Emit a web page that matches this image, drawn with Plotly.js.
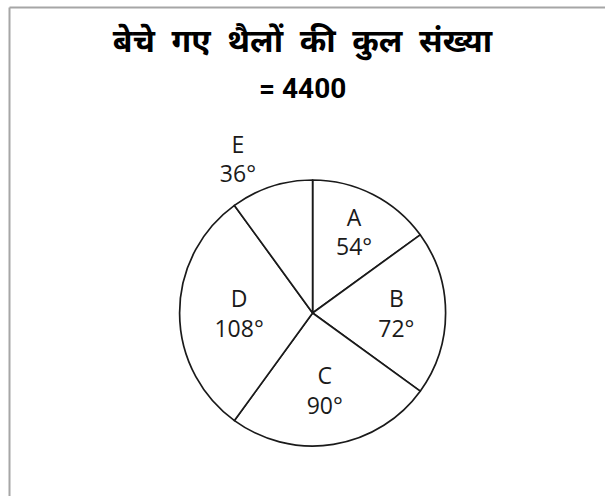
<!DOCTYPE html>
<html>
<head>
<meta charset="utf-8">
<script src="https://cdn.plot.ly/plotly-3.0.1.min.js"></script>
<style>
  html, body { margin: 0; padding: 0; background: #fff; }
  #chart { width: 605px; height: 496px; }
</style>
</head>
<body>
<div id="chart"></div>
<script>
// slice names and their angles in degrees
const categories = ['A', 'B', 'C', 'D', 'E'];
const degrees = [54, 72, 90, 108, 36];
const labelPlaces = ['inside', 'inside', 'inside', 'inside', 'outside'];
const titleWords = ['बेचे', 'गए', 'थैलों', 'की', 'कुल', 'संख्या'];
const totalText = '= 4400';

const labelFont = { family: 'Open Sans, sans-serif', size: 23, color: '#1a1a1a' };

const trace = {
  type: 'pie',
  labels: categories,
  values: degrees,
  sort: false,
  direction: 'clockwise',
  rotation: 0,
  texttemplate: '%{label}<br>%{value}°',
  textposition: labelPlaces,
  insidetextorientation: 'horizontal',
  insidetextfont: labelFont,
  outsidetextfont: labelFont,
  hoverinfo: 'none',
  marker: {
    colors: categories.map(() => '#ffffff'),
    line: { color: '#1a1a1a', width: 1.7 }
  },
  domain: { x: [0.2967, 0.7367], y: [0.1008, 0.6371] },
  showlegend: false
};

const layout = {
  width: 605,
  height: 496,
  margin: { l: 0, r: 0, t: 0, b: 0 },
  paper_bgcolor: '#ffffff',
  plot_bgcolor: '#ffffff',
  title: {
    // wide word gaps as in the original
    text: '<b>' + titleWords.join(' &nbsp;') + '</b>',
    font: { family: 'Noto Sans, Roboto, sans-serif', size: 32, color: '#000' },
    x: 0.5,
    xanchor: 'center',
    y: 1 - 41 / 496,
    yanchor: 'middle'
  },
  annotations: [{
    text: '<b>' + totalText + '</b>',
    xref: 'paper', yref: 'paper',
    x: 0.5, y: 1 - 88 / 496,
    xanchor: 'center', yanchor: 'middle',
    showarrow: false,
    font: { family: 'Roboto, sans-serif', size: 28, color: '#000' }
  }],
  uniformtext: { mode: 'show', minsize: 23 },
  shapes: [
    { type: 'line', xref: 'paper', yref: 'paper', x0: 9.5 / 605, x1: 1, y0: 1 - 7.5 / 496, y1: 1 - 7.5 / 496,
      line: { color: '#a6a6a6', width: 2 } },
    { type: 'line', xref: 'paper', yref: 'paper', x0: 9.5 / 605, x1: 9.5 / 605, y0: 0, y1: 1 - 7.5 / 496,
      line: { color: '#a6a6a6', width: 2 } }
  ]
};

Plotly.newPlot('chart', [trace], layout, { displayModeBar: false, staticPlot: true });
</script>
</body>
</html>
